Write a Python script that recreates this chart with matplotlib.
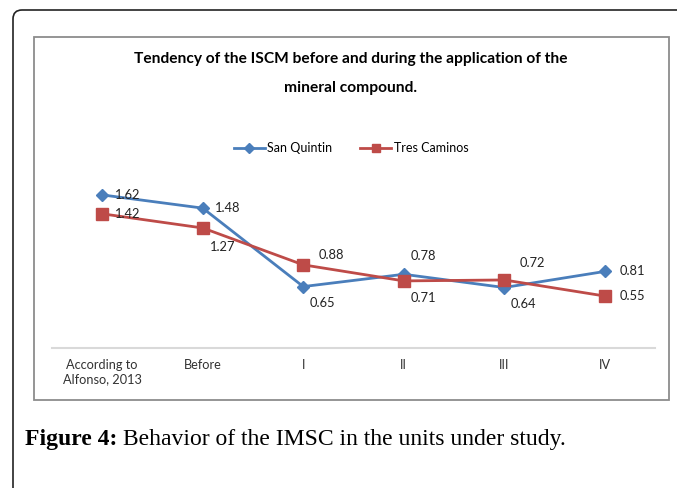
import matplotlib.pyplot as plt
from matplotlib.patches import Rectangle, FancyBboxPatch

# data
categories = ["According to\nAlfonso, 2013", "Before", "I", "II", "III", "IV"]
san_quintin = [1.62, 1.48, 0.65, 0.78, 0.64, 0.81]
tres_caminos = [1.42, 1.27, 0.88, 0.71, 0.72, 0.55]

# label offsets (points) for each data label
sq_offsets = [(18, 0), (18, 0), (14, -12), (14, 13), (14, -12), (20, 0)]
tc_offsets = [(18, 0), (14, -14), (20, 7), (14, -12), (20, 12), (20, 0)]

blue = "#4A7EBB"
red = "#BE4B48"

plt.rcParams["font.family"] = ["Lato", "DejaVu Sans"]

fig = plt.figure(figsize=(6.77, 4.88), dpi=100)

# outer frame with rounded top-left corner (pixel coordinates)
frame = FancyBboxPatch((13, -30), 720, 508, boxstyle="round,pad=0,rounding_size=9",
                       transform=None, fill=False, edgecolor="#222222", linewidth=1.2)
fig.patches.append(frame)

# inner chart box
box = Rectangle((34 / 677, 88 / 488), 635 / 677, 363 / 488, transform=fig.transFigure,
                fill=False, edgecolor="#8C8C8C", linewidth=1.3)
fig.patches.append(box)

ax = fig.add_axes([52 / 677, 140 / 488, 603 / 677, 189 / 488])
x = range(len(categories))
ax.plot(x, san_quintin, color=blue, linewidth=2, marker="D", markersize=6.5,
        label="San Quintin")
ax.plot(x, tres_caminos, color=red, linewidth=2, marker="s", markersize=8,
        label="Tres Caminos")

for i, v in enumerate(san_quintin):
    ax.annotate(f"{v:.2f}", (i, v), xytext=sq_offsets[i], textcoords="offset points",
                ha="center", va="center", fontsize=9.3, color="#222222")
for i, v in enumerate(tres_caminos):
    ax.annotate(f"{v:.2f}", (i, v), xytext=tc_offsets[i], textcoords="offset points",
                ha="center", va="center", fontsize=9.3, color="#222222")

ax.set_xlim(-0.5, len(categories) - 0.5)
ax.set_ylim(0, 2.0)
ax.set_yticks([])
ax.set_xticks(list(x))
ax.set_xticklabels(categories, fontsize=9.2, color="#333333", linespacing=1.25)
ax.tick_params(axis="x", length=0, pad=8)
for s in ["top", "right", "left"]:
    ax.spines[s].set_visible(False)
ax.spines["bottom"].set_color("#D9D9D9")
ax.spines["bottom"].set_linewidth(1.5)
ax.patch.set_alpha(0)

fig.text(351 / 677, 1 - 59 / 488, "Tendency of the ISCM before and during the application of the",
         ha="center", va="center", fontsize=11.2, fontweight="bold")
fig.text(351 / 677, 1 - 88 / 488, "mineral compound.",
         ha="center", va="center", fontsize=11.2, fontweight="bold")

fig.legend(loc="center", bbox_to_anchor=(351 / 677, 1 - 148 / 488), ncol=2, frameon=False,
           fontsize=9, handlelength=2.5, columnspacing=2.2, handletextpad=0.2,
           markerscale=0.8)

# caption: bold label followed by regular text
cap1 = fig.text(25 / 677, 1 - 440 / 488, "Figure 4:", ha="left", va="center", fontsize=17,
                fontweight="bold", family="Liberation Serif")
fig.canvas.draw()
bb = cap1.get_window_extent()
fig.text((bb.x1 + 6) / 677, 1 - 440 / 488, "Behavior of the IMSC in the units under study.",
         ha="left", va="center", fontsize=17, family="Liberation Serif")

fig.savefig("out.png", dpi=100)
